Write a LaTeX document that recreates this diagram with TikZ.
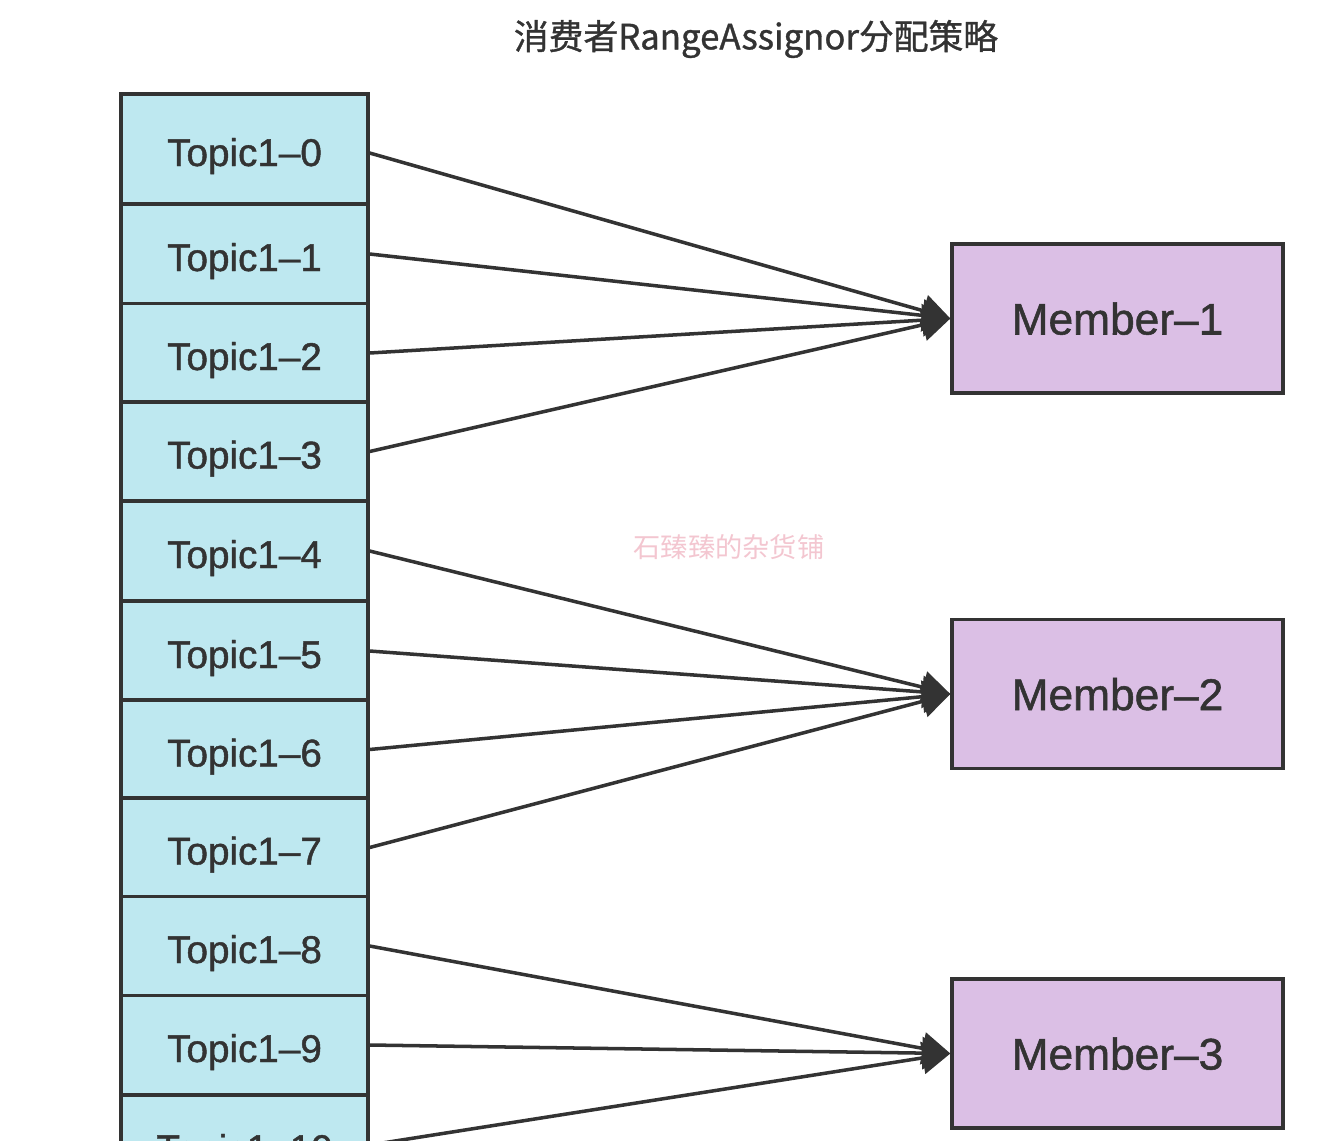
\documentclass[tikz,border=0pt]{standalone}
\usepackage{fontspec}
\setmainfont{Liberation Sans}
\newfontfamily\medfont[FakeBold=1.2]{Liberation Sans}
\newfontfamily\cjk[FakeBold=1]{Noto Sans CJK SC}
\newfontfamily\cjkmark{Noto Sans CJK SC}
\usetikzlibrary{arrows.meta}

\definecolor{topicfill}{HTML}{BEE8F0}
\definecolor{memberfill}{HTML}{DBBFE5}
\definecolor{linec}{HTML}{333333}
\definecolor{markc}{HTML}{F3C6D0}

\begin{document}
\begin{tikzpicture}[
            x=0.02cm, y=-0.02cm,
            topic/.style={draw=linec, fill=topicfill, line width=1.9pt, rectangle, minimum width=4.94cm, minimum height=1.98cm, inner sep=0pt, text height=0.68cm, text depth=0pt, text=linec, font=\medfont\fontsize{22}{26}\selectfont},
            member/.style={draw=linec, fill=memberfill, line width=1.9pt, rectangle, minimum width=6.62cm, minimum height=2.98cm, inner sep=0pt, text height=0.64cm, text depth=0pt, text=linec, font=\medfont\fontsize{25.2}{30}\selectfont},
            link/.style={draw=linec, line width=2pt, -{Triangle[length=0.56cm, width=0.64cm]}}
        ]

        \useasboundingbox (0, 0) rectangle (1322, 1140);
        \clip (0, 0) rectangle (1322, 1140);

        \node [text=linec, font=\cjk\fontsize{19.8}{24}\selectfont] (title) at (756, 39) {消费者RangeAssignor分配策略};
        \node [text=markc, font=\cjkmark\fontsize{15.5}{18}\selectfont] (mark) at (729, 547) {石臻臻的杂货铺};

        \node [topic, minimum height=2.2cm] (T0) at (244.5, 149) {Topic1\textendash0};
        \node [topic] (T1) at (244.5, 254) {Topic1\textendash1};
        \node [topic] (T2) at (244.5, 353) {Topic1\textendash2};
        \node [topic] (T3) at (244.5, 451.5) {Topic1\textendash3};
        \node [topic] (T4) at (244.5, 551) {Topic1\textendash4};
        \node [topic] (T5) at (244.5, 651) {Topic1\textendash5};
        \node [topic] (T6) at (244.5, 749.5) {Topic1\textendash6};
        \node [topic] (T7) at (244.5, 847.5) {Topic1\textendash7};
        \node [topic] (T8) at (244.5, 946) {Topic1\textendash8};
        \node [topic] (T9) at (244.5, 1045) {Topic1\textendash9};
        \node [topic] (T10) at (244.5, 1145) {Topic1\textendash10};

        \node [member] (M1) at (1117.5, 318.5) {Member\textendash1};
        \node [member] (M2) at (1117.5, 694) {Member\textendash2};
        \node [member] (M3) at (1117.5, 1053.5) {Member\textendash3};

        \draw [link] ([yshift=-0.08cm]T0.east) -- (M1.west);
        \draw [link] (T1.east) -- (M1.west);
        \draw [link] (T2.east) -- (M1.west);
        \draw [link] (T3.east) -- (M1.west);
        \draw [link] (T4.east) -- (M2.west);
        \draw [link] (T5.east) -- (M2.west);
        \draw [link] (T6.east) -- (M2.west);
        \draw [link] (T7.east) -- (M2.west);
        \draw [link] (T8.east) -- (M3.west);
        \draw [link] (T9.east) -- (M3.west);
        \draw [link] (T10.east) -- (M3.west);

        \end{tikzpicture}
\end{document}
